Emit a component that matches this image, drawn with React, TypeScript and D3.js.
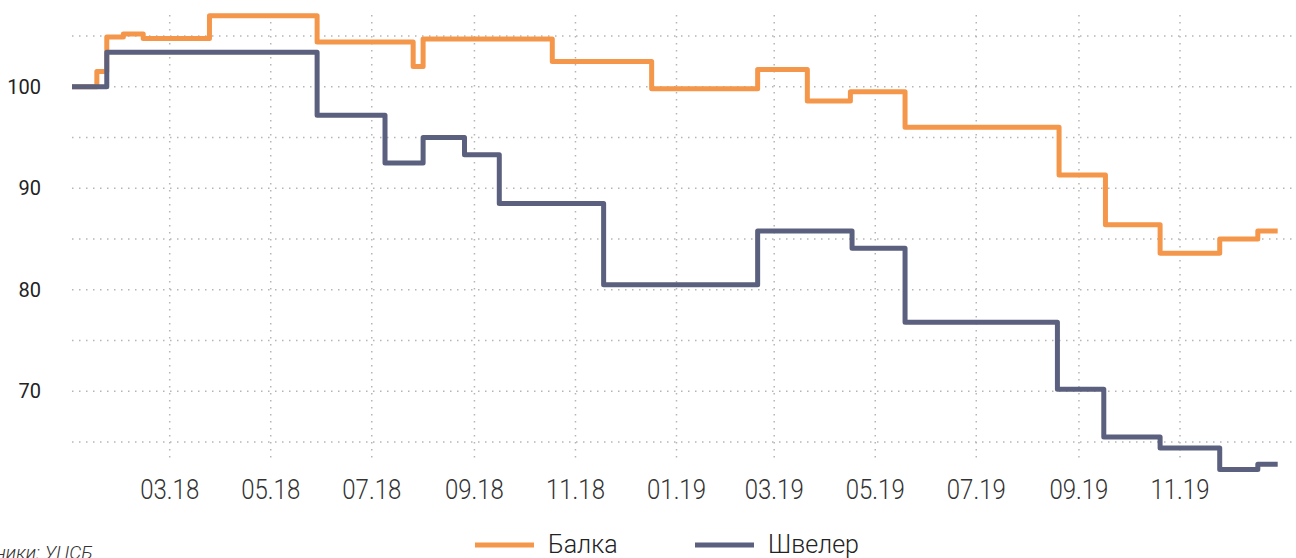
import React from "react";
import * as d3 from "d3";

const balkaDates = [
  "2018-01-01", "2018-01-16", "2018-01-22", "2018-02-01", "2018-02-13", "2018-03-25",
  "2018-05-29", "2018-07-26", "2018-08-01", "2018-10-18", "2018-12-17", "2019-02-19",
  "2019-03-21", "2019-04-16", "2019-05-19", "2019-08-20", "2019-09-17", "2019-10-20",
  "2019-11-25", "2019-12-18", "2019-12-30",
];
const balkaValues = [
  100, 101.5, 104.9, 105.2, 104.75, 107.0,
  104.4, 102.0, 104.7, 102.5, 99.8, 101.7,
  98.6, 99.5, 96.0, 91.3, 86.4, 83.6,
  85.0, 85.8, 85.8,
];

const shvelerDates = [
  "2018-01-01", "2018-01-22", "2018-05-29", "2018-07-09", "2018-08-01", "2018-08-26",
  "2018-09-16", "2018-11-18", "2019-02-19", "2019-04-17", "2019-05-19", "2019-08-19",
  "2019-09-16", "2019-10-20", "2019-11-25", "2019-12-18", "2019-12-30",
];
const shvelerValues = [
  100, 103.4, 97.2, 92.5, 95.0, 93.3,
  88.5, 80.5, 85.8, 84.1, 76.8, 70.2,
  65.5, 64.4, 62.3, 62.8, 62.8,
];

const xTickLabels = ["03.18", "05.18", "07.18", "09.18", "11.18", "01.19", "03.19", "05.19", "07.19", "09.19", "11.19"];
const yGridValues = [65, 70, 75, 80, 85, 90, 95, 100, 105];
const yLabelValues = [70, 80, 90, 100];
const seriesNames = ["Балка", "Швелер"];
const seriesColors = ["#F4974B", "#5B607E"];
const sourceText = "Источники: УЦСБ";

const W = 1296;
const H = 558;

export default function App() {
  const parse = d3.timeParse("%Y-%m-%d");
  const parseTick = d3.timeParse("%m.%y");

  const x = d3
    .scaleTime()
    .domain([parse("2018-01-01")!, parse("2020-01-01")!])
    .range([72, 1281]);
  const y = d3.scaleLinear().domain([65, 105]).range([442, 36]);

  const line = d3
    .line<[Date, number]>()
    .x((d) => x(d[0]))
    .y((d) => y(d[1]))
    .curve(d3.curveStepAfter);

  const balka: [Date, number][] = balkaDates.map((d, i) => [parse(d)!, balkaValues[i]]);
  const shveler: [Date, number][] = shvelerDates.map((d, i) => [parse(d)!, shvelerValues[i]]);
  const series = [balka, shveler];

  const tickDates = xTickLabels.map((t) => parseTick(t)!);

  const gridColor = "#b5b5b5";

  return (
    <svg
      width={W}
      height={H}
      style={{ position: "absolute", left: 0, top: 0, background: "#fff" }}
      fontFamily="Roboto, sans-serif"
    >
      {/* horizontal grid */}
      {yGridValues.map((v) => (
        <line
          key={"h" + v}
          x1={72}
          x2={W}
          y1={y(v)}
          y2={y(v)}
          stroke={gridColor}
          strokeWidth={1.5}
          strokeDasharray="1.5 5.5"
        />
      ))}
      {/* vertical grid */}
      {tickDates.map((d, i) => (
        <line
          key={"v" + i}
          x1={x(d)}
          x2={x(d)}
          y1={15}
          y2={463}
          stroke={gridColor}
          strokeWidth={1.5}
          strokeDasharray="1.5 5.5"
        />
      ))}
      {/* y labels */}
      {yLabelValues.map((v) => (
        <text
          key={"yl" + v}
          x={41}
          y={y(v)}
          textAnchor="end"
          dominantBaseline="central"
          fontSize={20}
          fill="#222"
        >
          {v}
        </text>
      ))}
      {/* x labels */}
      {tickDates.map((d, i) => (
        <text
          key={"xl" + i}
          x={x(d)}
          y={499}
          textAnchor="middle"
          fontSize={27}
          fontWeight={300}
          fill="#333"
          textLength={59}
          lengthAdjust="spacingAndGlyphs"
        >
          {xTickLabels[i]}
        </text>
      ))}
      {/* lines */}
      {series.map((s, i) => (
        <path
          key={"s" + i}
          d={line(s) || ""}
          fill="none"
          stroke={seriesColors[i]}
          strokeWidth={5}
          strokeLinejoin="round"
          strokeLinecap="butt"
        />
      ))}
      {/* legend */}
      {seriesNames.map((name, i) => {
        const lx = 475 + i * 220;
        return (
          <g key={"lg" + i}>
            <line x1={lx} x2={lx + 59} y1={545} y2={545} stroke={seriesColors[i]} strokeWidth={5} />
            <text x={lx + 73} y={553} fontSize={25} fontWeight={300} fill="#222">
              {name}
            </text>
          </g>
        );
      })}
      {/* source */}
      <text x={93} y={559} textAnchor="end" fontSize={19} fontStyle="italic" fontWeight={300} fill="#333">
        {sourceText}
      </text>
    </svg>
  );
}
